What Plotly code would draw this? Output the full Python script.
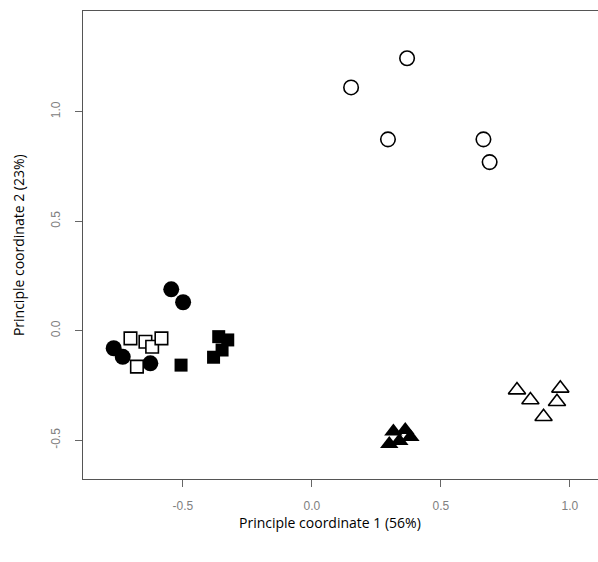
import plotly.graph_objects as go

# Groups: (x values, y values)
open_circle_x = [0.152, 0.369, 0.295, 0.665, 0.689]
open_circle_y = [1.111, 1.244, 0.874, 0.874, 0.770]

filled_circle_x = [-0.768, -0.733, -0.626, -0.545, -0.499]
filled_circle_y = [-0.080, -0.119, -0.149, 0.189, 0.130]

open_square_x = [-0.703, -0.645, -0.619, -0.583, -0.678]
open_square_y = [-0.035, -0.050, -0.073, -0.035, -0.164]

filled_square_x = [-0.361, -0.326, -0.348, -0.381, -0.507]
filled_square_y = [-0.027, -0.042, -0.088, -0.121, -0.157]

filled_triangle_x = [0.316, 0.362, 0.300, 0.339, 0.382]
filled_triangle_y = [-0.460, -0.453, -0.517, -0.504, -0.485]

open_triangle_x = [0.795, 0.847, 0.898, 0.963, 0.950]
open_triangle_y = [-0.271, -0.316, -0.393, -0.263, -0.324]

tick_vals = [-0.5, 0.0, 0.5, 1.0]
tick_text = ["-0.5", "0.0", "0.5", "1.0"]

x_title = "Principle coordinate 1 (56%)"
y_title = "Principle coordinate 2 (23%)"

fig = go.Figure()

def add(xs, ys, symbol, size, filled):
    fig.add_trace(go.Scatter(
        x=xs, y=ys, mode="markers",
        marker=dict(
            symbol=symbol, size=size,
            color="black" if filled else "white",
            line=dict(color="black", width=0 if filled else 1.6),
        ),
        showlegend=False,
    ))

add(open_circle_x, open_circle_y, "circle", 14.5, False)
add(filled_circle_x, filled_circle_y, "circle", 16, True)
add(open_square_x, open_square_y, "square", 12.5, False)
add(filled_square_x, filled_square_y, "square", 13, True)
add(filled_triangle_x, filled_triangle_y, "triangle-up", 16, True)
add(open_triangle_x, open_triangle_y, "triangle-up", 15, False)

axis_common = dict(
    showgrid=False, zeroline=False,
    showline=True, linecolor="#555", linewidth=1,
    ticks="outside", ticklen=7, tickcolor="#666", tickwidth=1,
    tickvals=tick_vals, ticktext=tick_text,
    tickfont=dict(family="Liberation Sans, Arial, sans-serif", size=12, color="#808080"),
)

title_font = dict(family="Open Sans, Liberation Sans, sans-serif", size=14, color="black")

fig.update_layout(
    width=598, height=562,
    margin=dict(l=83, r=0, t=11, b=83),
    paper_bgcolor="white", plot_bgcolor="white",
    xaxis=dict(range=[-0.887, 1.109], mirror=True, ticklabelstandoff=9, **axis_common),
    yaxis=dict(range=[-0.677, 1.46], mirror=False, tickangle=-90, ticklabelstandoff=10, **axis_common),
    annotations=[
        dict(text=x_title, xref="paper", yref="paper", x=0.48, y=-0.094,
             xanchor="center", yanchor="middle", showarrow=False, font=title_font),
        dict(text=y_title, xref="paper", yref="paper", x=-0.126, y=0.5, textangle=-90,
             xanchor="center", yanchor="middle", showarrow=False, font=title_font),
    ],
)

fig.write_html(
    "out.html",
    config={"displayModeBar": False},
    post_script="document.body.style.margin='0';document.body.style.overflow='hidden';",
)
